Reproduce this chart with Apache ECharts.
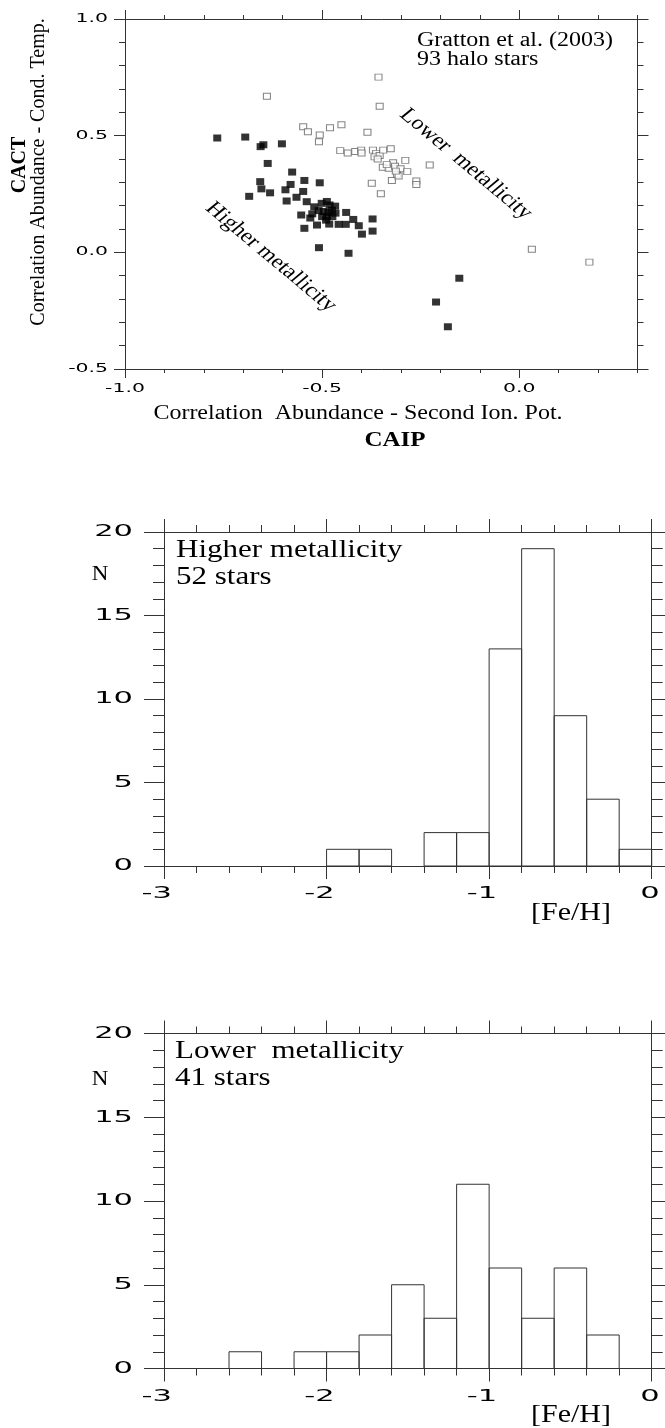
<!DOCTYPE html>
<html>
<head>
<meta charset="utf-8">
<title>CACT vs CAIP</title>
<script src="https://cdn.jsdelivr.net/npm/echarts@6/dist/echarts.min.js"></script>
<style>
  html, body { margin: 0; padding: 0; background: #fff; }
  #chart { width: 665px; height: 1428px; }
</style>
</head>
<body>
<div id="chart"></div>
<script>
// filled squares, higher metallicity: [CAIP, CACT]
var higherStars = [
  [-0.766,0.490],[-0.695,0.494],[-0.656,0.453],[-0.649,0.461],[-0.602,0.465],[-0.638,0.381],
  [-0.576,0.344],[-0.657,0.303],[-0.580,0.291],[-0.545,0.308],[-0.506,0.298],[-0.654,0.272],
  [-0.632,0.255],[-0.593,0.268],[-0.548,0.261],[-0.685,0.240],[-0.565,0.236],[-0.590,0.220],
  [-0.539,0.217],[-0.553,0.160],[-0.545,0.103],[-0.525,0.165],[-0.513,0.117],[-0.508,0.020],
  [-0.520,0.195],[-0.501,0.210],[-0.488,0.218],[-0.481,0.203],[-0.475,0.181],[-0.496,0.175],
  [-0.488,0.152],[-0.474,0.153],[-0.490,0.138],[-0.458,0.120],[-0.440,0.120],[-0.439,0.171],
  [-0.421,0.141],[-0.407,0.114],[-0.399,0.078],[-0.372,0.143],[-0.372,0.091],[-0.433,-0.004],
  [-0.152,-0.111],[-0.211,-0.213],[-0.181,-0.319],[-0.509,0.179],[-0.484,0.171],[-0.466,0.168],
  [-0.500,0.153],[-0.482,0.121],[-0.530,0.147],[-0.467,0.198]
];
// open squares, lower metallicity
var lowerStars = [
  [-0.640,0.669],[-0.357,0.751],[-0.354,0.626],[-0.548,0.538],[-0.536,0.517],[-0.506,0.503],
  [-0.508,0.474],[-0.480,0.534],[-0.451,0.547],[-0.385,0.515],[-0.454,0.436],[-0.435,0.426],
  [-0.416,0.432],[-0.401,0.438],[-0.371,0.438],[-0.363,0.424],[-0.367,0.409],[-0.354,0.415],
  [-0.345,0.438],[-0.326,0.444],[-0.346,0.365],[-0.331,0.360],[-0.320,0.384],[-0.315,0.369],
  [-0.310,0.335],[-0.301,0.358],[-0.289,0.394],[-0.284,0.346],[-0.374,0.296],[-0.323,0.308],
  [-0.351,0.251],[-0.261,0.306],[-0.261,0.291],[-0.227,0.374],[0.032,0.013],[0.178,-0.042],
  [-0.400,0.426],[-0.306,0.327],[-0.313,0.348],[-0.336,0.376],[-0.359,0.400]
];

// [Fe/H] histograms, 0.2 dex bins
var binStarts = [-3.0,-2.8,-2.6,-2.4,-2.2,-2.0,-1.8,-1.6,-1.4,-1.2,-1.0,-0.8,-0.6,-0.4,-0.2];
var binWidth = 0.2;
var higherCounts = [0,0,0,0,0,1,1,0,2,2,13,19,9,4,1];
var lowerCounts  = [0,0,1,0,1,1,2,5,3,11,6,3,6,2,0];

var scatterXTicks = [-1.0, -0.5, 0.0];
var scatterYTicks = [-0.5, 0.0, 0.5, 1.0];
var histXTicks = [-3, -2, -1, 0];
var histYTicks = [0, 5, 10, 15, 20];

var INK = '#333';
var SERIF = '"Liberation Serif", "Times New Roman", serif';
var SANS = '"DejaVu Sans", sans-serif';

function bins(counts) {
  return binStarts.map(function (s, i) {
    return [s, +(s + binWidth).toFixed(1), counts[i]];
  });
}

function axis(grid, pos, min, max, step, tick, minor) {
  return {
    type: 'value', gridIndex: grid, position: pos,
    min: min, max: max, interval: step,
    axisLine: { show: true, onZero: false, lineStyle: { color: INK, width: 1 } },
    axisTick: { show: true, inside: false, length: tick, lineStyle: { color: INK, width: 1 } },
    minorTick: { show: !!minor, splitNumber: 5, length: minor || 0, lineStyle: { color: INK, width: 1 } },
    axisLabel: { show: false },
    splitLine: { show: false },
    minorSplitLine: { show: false }
  };
}

function histSeries(xi, yi, counts) {
  return {
    type: 'custom', xAxisIndex: xi, yAxisIndex: yi, silent: true,
    data: bins(counts),
    encode: { x: [0, 1], y: 2 },
    renderItem: function (params, api) {
      var n = api.value(2);
      if (!n) return;
      var a = api.coord([api.value(0), n]);
      var b = api.coord([api.value(1), 0]);
      return {
        type: 'rect',
        shape: { x: a[0], y: a[1], width: b[0] - a[0], height: b[1] - a[1] },
        style: { fill: 'none', stroke: INK, lineWidth: 1 }
      };
    }
  };
}

function text(x, y, s, font, align, sx, rot) {
  return {
    type: 'text', x: x, y: y, scaleX: sx || 1, rotation: rot || 0, silent: true,
    style: {
      text: s, font: font, fill: '#000',
      align: align || 'left', verticalAlign: 'middle',
      textAlign: align || 'left', textVerticalAlign: 'middle'
    }
  };
}

// the source figure is stretched sideways, so slanted labels go in a scaled group
function slanted(cx, cy, s) {
  return {
    type: 'group', x: cx, y: cy, scaleX: 1.2,
    children: [text(0, 0, s, '20px ' + SERIF, 'center', 1, -Math.PI / 4)]
  };
}

var chart = echarts.init(document.getElementById('chart'));

var scatterBox = { left: 125, top: 19, width: 512.5, height: 350, outerBoundsMode: 'none' };
var hist1Box = { left: 164, top: 532, width: 487.7, height: 334, outerBoundsMode: 'none' };
var hist2Box = { left: 164, top: 1033.5, width: 487.7, height: 335, outerBoundsMode: 'none' };

var majorX = axis(1, 'bottom', -1.0, 0.3, 0.1, 9, 0);
majorX.axisTick.customValues = scatterXTicks;
majorX.axisLine.show = false;
var majorXTop = axis(1, 'top', -1.0, 0.3, 0.1, 9, 0);
majorXTop.axisTick.customValues = scatterXTicks;
majorXTop.axisLine.show = false;

chart.setOption({
  animation: false,
  backgroundColor: '#fff',
  grid: [scatterBox, scatterBox, hist1Box, hist2Box],
  xAxis: [
    axis(0, 'bottom', -1.0, 0.3, 0.1, 4, 0),
    axis(0, 'top', -1.0, 0.3, 0.1, 4, 0),
    majorX,
    majorXTop,
    axis(2, 'bottom', -3, 0, 1, 13, 7),
    axis(2, 'top', -3, 0, 1, 13, 7),
    axis(3, 'bottom', -3, 0, 1, 13, 7),
    axis(3, 'top', -3, 0, 1, 13, 7)
  ],
  yAxis: [
    axis(0, 'left', -0.5, 1.0, 0.5, 11, 6),
    axis(0, 'right', -0.5, 1.0, 0.5, 11, 6),
    { type: 'value', gridIndex: 1, show: false, min: 0, max: 1 },
    axis(2, 'left', 0, 20, 5, 20, 11),
    axis(2, 'right', 0, 20, 5, 20, 11),
    axis(3, 'left', 0, 20, 5, 20, 11),
    axis(3, 'right', 0, 20, 5, 20, 11)
  ],
  series: [
    {
      type: 'scatter', xAxisIndex: 0, yAxisIndex: 0, silent: true,
      symbol: 'rect', symbolSize: [7, 6],
      itemStyle: { color: '#fff', borderColor: '#666', borderWidth: 1 },
      data: lowerStars
    },
    {
      type: 'scatter', xAxisIndex: 0, yAxisIndex: 0, silent: true,
      symbol: 'rect', symbolSize: [8, 7],
      itemStyle: { color: '#000' },
      data: higherStars
    },
    histSeries(4, 3, higherCounts),
    histSeries(6, 5, lowerCounts)
  ]
});

// tick labels placed through the axes, then stretched like the source
var g = [];
scatterXTicks.forEach(function (v) {
  var p = chart.convertToPixel({ xAxisIndex: 0, yAxisIndex: 0 }, [v, -0.5]);
  g.push(text(p[0], p[1] + 20, v.toFixed(1), '12px ' + SANS, 'center', 1.7));
});
scatterYTicks.forEach(function (v) {
  var p = chart.convertToPixel({ xAxisIndex: 0, yAxisIndex: 0 }, [-1.0, v]);
  g.push(text(p[0] - 17, p[1], v.toFixed(1), '12px ' + SANS, 'right', 1.7));
});
[[4, 3], [6, 5]].forEach(function (ax) {
  histXTicks.forEach(function (v) {
    var p = chart.convertToPixel({ xAxisIndex: ax[0], yAxisIndex: ax[1] }, [v, 0]);
    g.push(text(p[0] + 8, p[1] + 28, String(v), '16.5px ' + SANS, 'right', 1.85));
  });
  histYTicks.forEach(function (v) {
    var p = chart.convertToPixel({ xAxisIndex: ax[0], yAxisIndex: ax[1] }, [-3, v]);
    g.push(text(p[0] - 31, p[1], String(v), '16.5px ' + SANS, 'right', 1.85));
  });
});

// titles and notes
g.push(text(417, 41, 'Gratton et al. (2003)', '20px ' + SERIF, 'left', 1.2));
g.push(text(417, 60, '93 halo stars', '20px ' + SERIF, 'left', 1.2));
g.push(slanted(466, 164, 'Lower  metallicity'));
g.push(slanted(271, 257, 'Higher metallicity'));
g.push(text(358, 414, 'Correlation  Abundance - Second Ion. Pot.', '20px ' + SERIF, 'center', 1.2));
g.push(text(395, 441, 'CAIP', 'bold 20px ' + SERIF, 'center', 1.25));
g.push(text(20, 165, 'CACT', 'bold 20px ' + SERIF, 'center', 1, Math.PI / 2));
g.push(text(39, 172, 'Correlation Abundance - Cond. Temp.', '20px ' + SERIF, 'center', 1, Math.PI / 2));

g.push(text(176, 550.5, 'Higher metallicity', '25px ' + SERIF, 'left', 1.24));
g.push(text(176, 577.5, '52 stars', '25px ' + SERIF, 'left', 1.24));
g.push(text(100, 575, 'N', '20px ' + SERIF, 'center', 1.15));
g.push(text(571, 913, '[Fe/H]', '25px ' + SERIF, 'center', 1.2));

g.push(text(175, 1051.5, 'Lower  metallicity', '25px ' + SERIF, 'left', 1.24));
g.push(text(175, 1078, '41 stars', '25px ' + SERIF, 'left', 1.24));
g.push(text(100, 1080, 'N', '20px ' + SERIF, 'center', 1.15));
g.push(text(571, 1415.5, '[Fe/H]', '25px ' + SERIF, 'center', 1.2));

chart.setOption({ graphic: g });
</script>
</body>
</html>
